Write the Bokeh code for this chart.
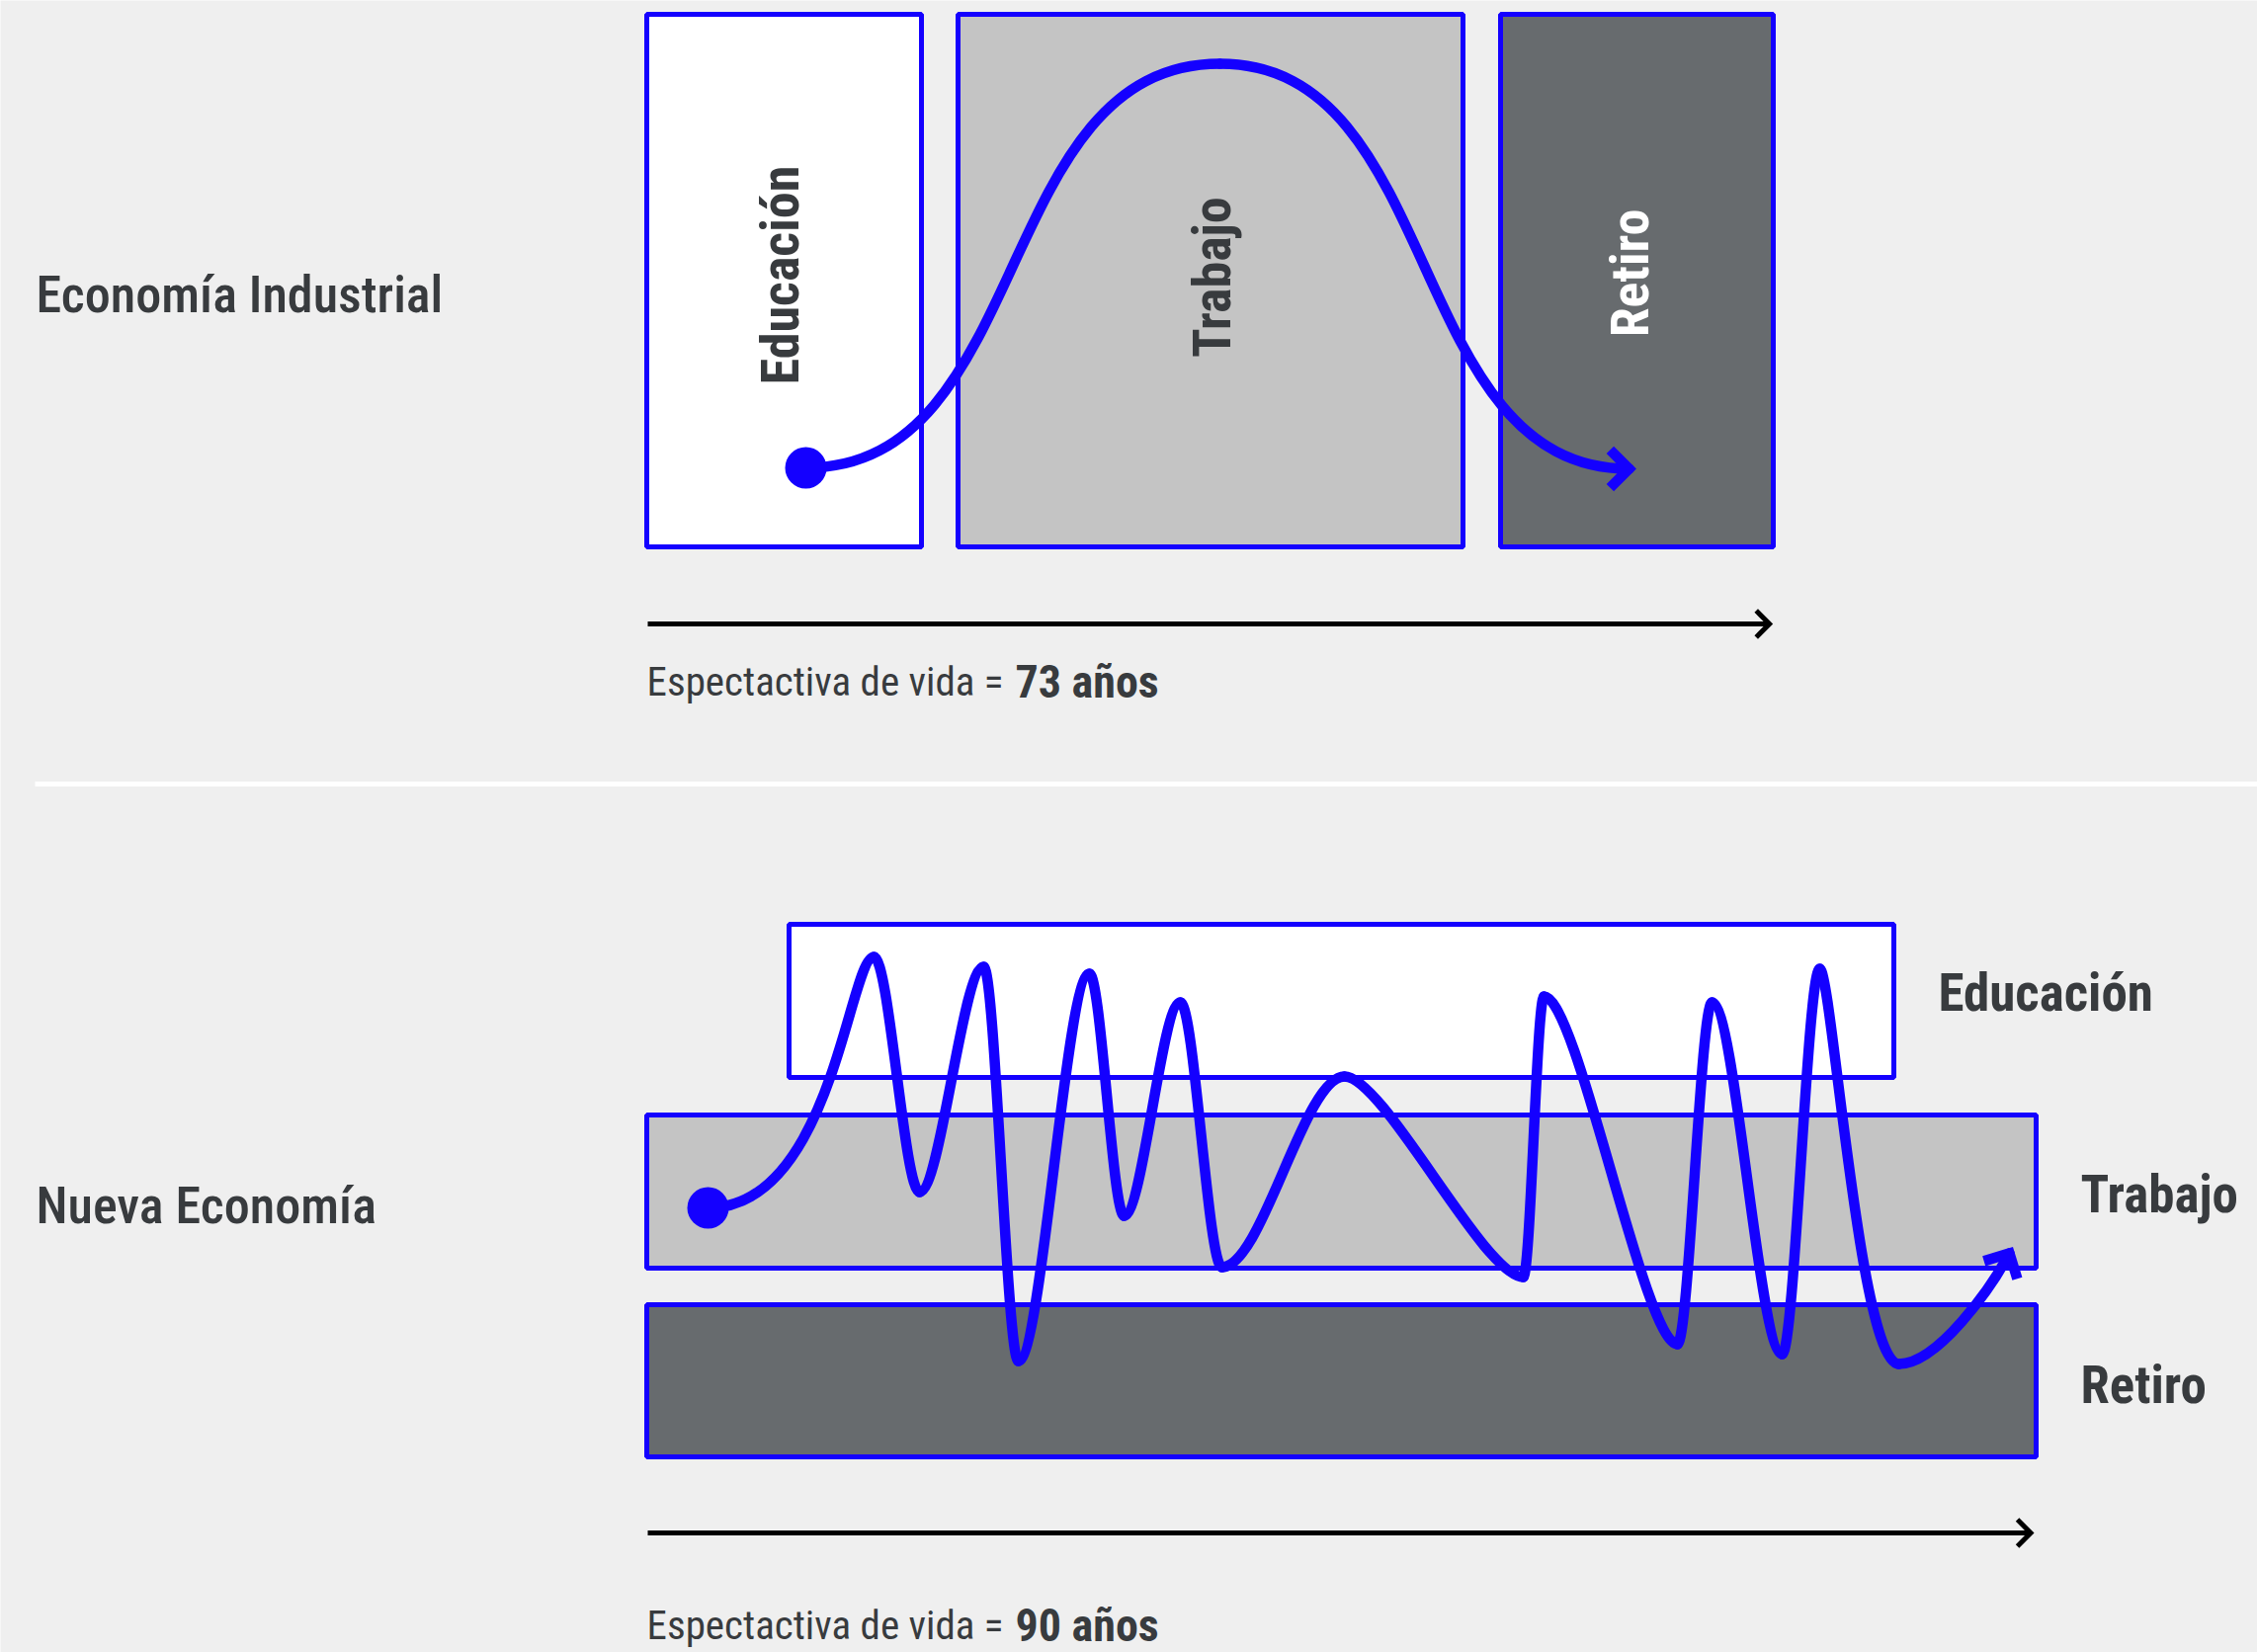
import numpy as np
from bokeh.plotting import figure
from bokeh.models import Range1d
from bokeh.core.properties import value
from bokeh.embed import file_html
from bokeh.resources import INLINE

# ------------------------------------------------------------------ data
section_titles = ["Economía Industrial", "Nueva Economía"]
section_title_y = [298, 1220]

stages = ["Educación", "Trabajo", "Retiro"]
stage_fills = ["#ffffff", "#c4c4c4", "#676b6e"]
stage_text_colors = ["#383b3e", "#383b3e", "#ffffff"]

# Industrial economy: one block after the other
ind_left = [654, 969, 1518]
ind_right = [932, 1480, 1794]
ind_top = [14, 14, 14]
ind_bottom = [553, 553, 553]
ind_label_x = [789, 1226, 1649]
ind_label_y = [278, 280, 276]

# New economy: overlapping rows
new_left = [798, 654, 654]
new_right = [1916, 2060, 2060]
new_top = [935, 1128, 1320]
new_bottom = [1090, 1283, 1474]
new_label_y = [1004, 1208, 1401]

life_expectancy = [73, 90]
timeline_y = [631, 1551]
caption_y = [689, 1644]
caption_prefix = "Espectactiva de vida ="

# life paths: start point, turning points, arrow tip
ind_path_x = [815, 1234, 1648]
ind_path_y = [473, 64, 474]
ind_arrow_angle = 0          # degrees above horizontal at the tip

new_path_x = [716, 884, 930, 995, 1030, 1102, 1137, 1194, 1236, 1360,
              1541, 1562, 1697, 1732, 1803, 1841, 1921, 2033]
new_path_y = [1222, 968, 1206, 978, 1377, 985, 1230, 1014, 1282, 1089,
              1292, 1008, 1360, 1014, 1370, 980, 1380, 1268]
new_arrow_angle = 62

# ------------------------------------------------------------------ style
BG = "#efefef"
BLUE = "#1400ff"
TEXT = "#383b3e"
NARROW = value("Roboto Condensed, DejaVu Sans Condensed, Liberation Sans Narrow, Roboto")
NARROW_MED = value("Roboto Condensed Medium, Roboto Condensed, DejaVu Sans Condensed, Roboto")
px_per_year = 15.55
timeline_x0 = 655
W, H = 2284, 1672

ind_k0 = [0.55, 0.55]
ind_k1 = [0.55, 0.55]
new_k0 = [0.75, 0.33, 0.33, 0.33, 0.33, 0.33, 0.33, 0.33, 0.33, 0.22, 0.35, 0.25, 0.33, 0.33, 0.33, 0.15, 0.35]
new_k1 = [0.15, 0.33, 0.33, 0.33, 0.33, 0.33, 0.33, 0.33, 0.33, 0.22, 0.35, 0.25, 0.33, 0.33, 0.33, 0.50, 0.35]


def bezier_segments(xs, ys, k0, k1, end_angle_deg, end_handle=40):
    xs = np.asarray(xs, float)
    ys = np.asarray(ys, float)
    x0, y0, x1, y1 = xs[:-1], ys[:-1], xs[1:], ys[1:]
    dx = x1 - x0
    cx0 = x0 + np.asarray(k0) * dx
    cy0 = y0.copy()
    cx1 = x1 - np.asarray(k1) * dx
    cy1 = y1.copy()
    a = np.radians(end_angle_deg)
    ux, uy = np.cos(a), -np.sin(a)   # y axis points down
    if end_angle_deg != 0:
        cx1[-1] = x1[-1] - end_handle * ux
        cy1[-1] = y1[-1] - end_handle * uy
    return dict(x0=x0, y0=y0, x1=x1, y1=y1, cx0=cx0, cy0=cy0, cx1=cx1, cy1=cy1)


def v_head(tx, ty, angle_deg, arm, half_deg):
    a = np.radians(angle_deg)
    ux, uy = np.cos(a), -np.sin(a)
    bx, by = -ux, -uy
    h = np.radians(half_deg)
    c, s = np.cos(h), np.sin(h)
    ax1, ay1 = bx * c - by * s, bx * s + by * c
    ax2, ay2 = bx * c + by * s, -bx * s + by * c
    return [tx + arm * ax1, tx, tx + arm * ax2], [ty + arm * ay1, ty, ty + arm * ay2]


p = figure(width=W, height=H, x_range=Range1d(0, W), y_range=Range1d(H, 0),
           output_backend="svg", toolbar_location=None,
           x_axis_location=None, y_axis_location=None, min_border=0,
           background_fill_color=BG, border_fill_color=BG, outline_line_color=None)
p.xgrid.visible = False
p.ygrid.visible = False

# separator
p.segment(x0=[35], y0=[793], x1=[W], y1=[793], line_color="#ffffff", line_width=5)

# section titles
p.text(x=[36, 36], y=section_title_y, text=section_titles, text_font=NARROW_MED,
       text_font_size="52px", text_color=TEXT, text_baseline="middle", text_align="left")

# ---- industrial economy blocks
p.quad(left=ind_left, right=ind_right, top=ind_top, bottom=ind_bottom,
       fill_color=stage_fills, line_color=BLUE, line_width=5)
p.text(x=ind_label_x, y=ind_label_y, text=stages, angle=np.pi / 2, text_font=NARROW,
       text_font_style="bold", text_font_size="54px", text_color=stage_text_colors,
       text_align="center", text_baseline="middle")

# ---- new economy rows
p.quad(left=new_left, right=new_right, top=new_top, bottom=new_bottom,
       fill_color=stage_fills, line_color=BLUE, line_width=5)
p.text(x=[r + 45 for r in new_right], y=new_label_y, text=stages, text_font=NARROW,
       text_font_style="bold", text_font_size="53px", text_color=TEXT,
       text_align="left", text_baseline="middle")

# ---- timelines + captions
for yrs, ty, cy in zip(life_expectancy, timeline_y, caption_y):
    x_end = timeline_x0 + yrs * px_per_year
    p.segment(x0=[timeline_x0], y0=[ty], x1=[x_end], y1=[ty], line_color="#000000", line_width=5)
    hx, hy = v_head(x_end, ty, 0, 19, 45)
    p.line(hx, hy, line_color="#000000", line_width=5, line_join="miter")
    p.text(x=[1015], y=[cy], text=[caption_prefix], text_font=NARROW, text_font_size="41px",
           text_color=TEXT, text_baseline="middle", text_align="right")
    p.text(x=[1027], y=[cy], text=[f"{yrs} años"], text_font=NARROW, text_font_style="bold",
           text_font_size="46px", text_color=TEXT, text_baseline="middle", text_align="left")

# ---- life paths
for xs, ys, k0, k1, ang in [(ind_path_x, ind_path_y, ind_k0, ind_k1, ind_arrow_angle),
                            (new_path_x, new_path_y, new_k0, new_k1, new_arrow_angle)]:
    seg = bezier_segments(xs, ys, k0, k1, ang)
    p.bezier(line_color=BLUE, line_width=10.5, line_cap="round", **seg)
    p.circle(x=[xs[0]], y=[ys[0]], radius=21, fill_color=BLUE, line_color=None)
    hx, hy = v_head(xs[-1], ys[-1], ang, 27, 45)
    p.line(hx, hy, line_color=BLUE, line_width=10.5, line_join="miter")

html = file_html(p, INLINE, title="Economía")
html = html.replace("<body>", '<body style="background:%s">' % BG, 1)
open("out.html", "w").write(html)
